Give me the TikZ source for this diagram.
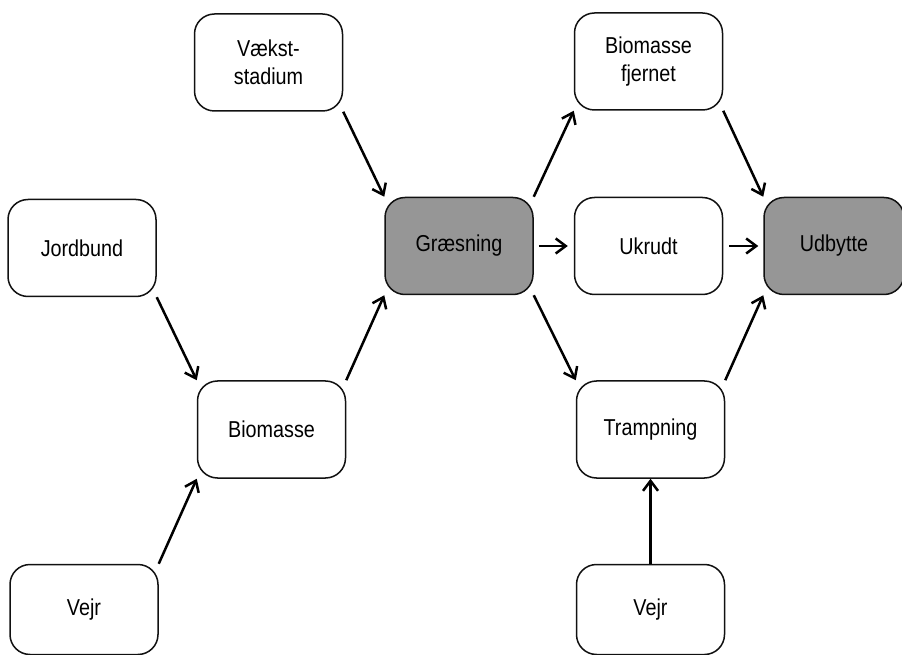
\documentclass[tikz,border=0pt]{standalone}
\usepackage{fontspec}
\setmainfont{Liberation Sans}[FakeStretch=0.86]
\usetikzlibrary{arrows.meta, positioning}
\definecolor{boxFill}{HTML}{FFFFFF}
\definecolor{boxStroke}{HTML}{111111}
\definecolor{keyFill}{HTML}{969696}

\begin{document}
\begin{tikzpicture}[
    x=1pt, y=1pt,
    font=\fontsize{23}{28}\selectfont,
    box/.style={
        rectangle, rounded corners=20pt,
        draw=boxStroke, fill=boxFill, line width=1.5pt,
        align=center, minimum width=148pt,
        minimum height=97pt, inner sep=0pt
    },
    keybox/.style={
        box, fill=keyFill
    },
    arrow/.style={
        -{Straight Barb[length=10pt,width=15pt]},
        draw=black, line width=2.5pt
    }
]
    \useasboundingbox (0,0) rectangle (902,654);

    \node[keybox] (graes) at (459,408) {Græsning};
    \node[box, above left=85pt and 41pt of graes] (vaekst) {Vækst-\\stadium};
    \node[box, below left=85pt and 38pt of graes] (biom) {Biomasse};
    \node[box, above left=83pt and 40pt of biom] (jord) {Jordbund};
    \node[box, below left=85pt and 38pt of biom, minimum height=90pt] (vejrL) {Vejr};

    \node[box, right=40pt of graes] (ukrudt) {Ukrudt};
    \node[keybox, right=40pt of ukrudt, minimum width=140pt] (udbytte) {Udbytte};
    \node[box, above=86pt of ukrudt] (fjern) {Biomasse\\fjernet};
    \node[box, below=85pt of ukrudt, xshift=2pt] (tramp) {Trampning};
    \node[box, below=85pt of tramp, minimum height=90pt] (vejrR) {Vejr};

    \draw[arrow] (vaekst.south east) -- (graes.north west);
    \draw[arrow] (jord.south east) -- (biom.north west);
    \draw[arrow] (vejrL.north east) -- (biom.south west);
    \draw[arrow] (biom.north east) -- (graes.south west);

    \draw[arrow] (graes.north east) -- (fjern.south west);
    \draw[arrow, shorten <=5pt, shorten >=6pt] (graes) -- (ukrudt);
    \draw[arrow] (graes.south east) -- (tramp.north west);

    \draw[arrow] (fjern.south east) -- (udbytte.north west);
    \draw[arrow, shorten <=6pt, shorten >=5pt] (ukrudt) -- (udbytte);
    \draw[arrow] (tramp.north east) -- (udbytte.south west);
    \draw[arrow] (vejrR) -- (tramp);
\end{tikzpicture}
\end{document}
